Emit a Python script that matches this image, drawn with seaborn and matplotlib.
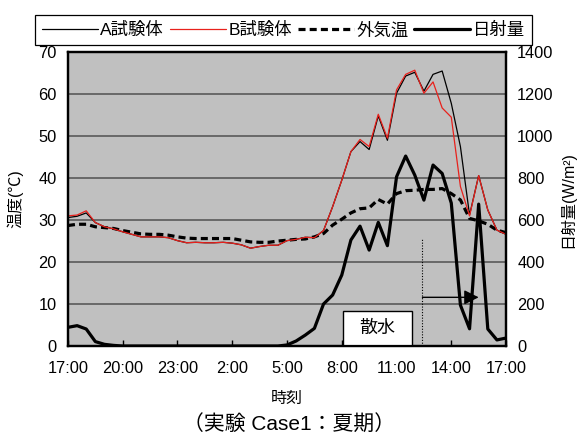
import numpy as np
import pandas as pd
import matplotlib
matplotlib.use("Agg")
import matplotlib.pyplot as plt
from matplotlib.patches import Rectangle
import seaborn as sns

# Half-hourly readings from 17:00 to 17:00 the next day
hours = np.arange(49) * 0.5

temp_a = [30.6, 30.9, 31.7, 29.4, 28.4, 27.9, 27.2, 26.6, 26.0, 26.0,
          26.0, 25.8, 25.1, 24.6, 24.7, 24.6, 24.6, 24.7, 24.5, 24.1,
          23.3, 23.7, 24.0, 24.0, 25.1, 25.4, 25.9, 25.8, 27.5, 33.2,
          39.5, 46.3, 48.7, 46.8, 54.8, 49.0, 60.2, 64.3, 65.2, 60.7,
          64.7, 65.5, 57.8, 47.5, 31.2, 40.6, 32.4, 27.6, 26.6]
temp_b = [31.0, 31.2, 32.2, 29.4, 28.4, 27.9, 27.2, 26.6, 26.0, 26.0,
          26.0, 25.8, 25.1, 24.6, 24.7, 24.6, 24.6, 24.7, 24.5, 24.1,
          23.3, 23.7, 24.0, 24.0, 25.1, 25.4, 25.9, 25.8, 27.5, 33.2,
          39.5, 46.3, 49.2, 47.5, 55.2, 49.5, 61.0, 64.7, 65.7, 60.2,
          62.9, 56.7, 54.5, 38.0, 31.0, 40.6, 32.4, 27.6, 26.6]
temp_out = [28.7, 29.0, 29.0, 28.4, 28.2, 28.0, 27.5, 27.1, 26.7, 26.6,
            26.6, 26.4, 26.0, 25.7, 25.6, 25.6, 25.6, 25.6, 25.6, 25.2,
            24.8, 24.7, 24.7, 25.0, 25.2, 25.4, 25.5, 26.0, 26.8, 28.8,
            30.2, 31.7, 32.7, 32.9, 34.9, 33.8, 36.3, 37.0, 37.1, 37.3,
            37.3, 37.5, 36.3, 34.8, 30.4, 29.8, 29.0, 27.6, 27.0]
solar = [89, 97, 81, 21, 8, 3, 0, 0, 0, 0,
         0, 0, 0, 0, 0, 0, 0, 0, 0, 0,
         0, 0, 0, 0, 5, 24, 52, 84, 200, 243,
         338, 505, 571, 457, 589, 478, 806, 905, 814, 695,
         862, 822, 681, 195, 82, 676, 81, 29, 38]

tick_hours = [0, 3, 6, 9, 12, 15, 18, 21, 24]
tick_labels = ["17:00", "20:00", "23:00", "2:00", "5:00",
               "8:00", "11:00", "14:00", "17:00"]

series_names = ["A試験体", "B試験体", "外気温", "日射量"]

# Sprinkling period: starts at 12:25, marked with an arrow
sprinkle_start = 19.42
sprinkle_arrow_end = 22.5

df = pd.DataFrame({"hour": hours, "A": temp_a, "B": temp_b,
                   "out": temp_out, "solar": solar})

sns.set_theme(style="white", rc={"text.color": "black",
                                 "axes.labelcolor": "black",
                                 "xtick.color": "black",
                                 "ytick.color": "black"})
plt.rcParams["font.family"] = ["Liberation Sans", "Noto Sans CJK JP"]

TICK_FS = 11.8
LABEL_FS = 11.5

fig = plt.figure(figsize=(5.81, 4.38), dpi=100)
ax = fig.add_axes([0.117, 0.210, 0.754, 0.671])
ax.set_facecolor("#c0c0c0")

sns.lineplot(data=df, x="hour", y="out", ax=ax, color="black",
             lw=2.3, legend=False)
ax.lines[-1].set_dashes([2.2, 1.3])
sns.lineplot(data=df, x="hour", y="A", ax=ax, color="black",
             lw=0.9, legend=False)
sns.lineplot(data=df, x="hour", y="B", ax=ax, color="#e8211c",
             lw=0.9, legend=False)

ax.set_xlim(0, 24)
ax.set_ylim(0, 70)
ax.set_xticks(tick_hours)
ax.set_xticklabels(tick_labels)
ax.set_yticks(range(0, 71, 10))
ax.grid(axis="y", color="#595959", lw=1.2)
ax.grid(axis="x", visible=False)
ax.set_axisbelow(True)
ax.tick_params(axis="x", direction="in", length=4, width=1, pad=11,
               labelsize=TICK_FS, bottom=True)
ax.tick_params(axis="y", length=0, pad=8, labelsize=TICK_FS)
for sp in ax.spines.values():
    sp.set_linewidth(1.6)
    sp.set_color("black")

ax.set_xlabel("時刻", fontsize=LABEL_FS)
ax.xaxis.set_label_coords(0.5, -0.178)
ax.xaxis.label.set_va("center")
ax.set_ylabel("温度(℃)", fontsize=LABEL_FS)
ax.yaxis.set_label_coords(-0.121, 0.5)
ax.yaxis.label.set_va("center")

# Sprinkling annotation
ax.add_patch(Rectangle((15.05, 0), 3.78, 8.3, facecolor="white",
                       edgecolor="black", lw=1.0, zorder=3))
ax.text(16.94, 4.2, "散水", ha="center", va="center", fontsize=13,
        zorder=4)
ax.plot([sprinkle_start, sprinkle_start], [0, 25.7], color="black",
        lw=0.8, ls=(0, (1, 1.5)), zorder=2)
ax.annotate("", xy=(sprinkle_arrow_end, 11.6),
            xytext=(sprinkle_start, 11.6),
            arrowprops=dict(arrowstyle="-|>", color="black", lw=1.0,
                            mutation_scale=22, shrinkA=0, shrinkB=0),
            zorder=2)

ax2 = ax.twinx()
sns.lineplot(data=df, x="hour", y="solar", ax=ax2, color="black",
             lw=2.3, legend=False)
ax2.set_ylim(0, 1400)
ax2.set_yticks(range(0, 1401, 200))
ax2.grid(False)
ax2.tick_params(axis="y", length=0, pad=8, labelsize=TICK_FS)
for sp in ax2.spines.values():
    sp.set_linewidth(1.6)
    sp.set_color("black")
ax2.set_ylabel("日射量(W/m²)", fontsize=LABEL_FS)
ax2.yaxis.set_label_coords(1.139, 0.5)
ax2.yaxis.label.set_va("center")

handles = [ax.lines[1], ax.lines[2], ax.lines[0], ax2.lines[0]]
leg = fig.legend(handles, series_names, loc="upper center",
                 bbox_to_anchor=(0.488, 0.985), ncol=4, frameon=True,
                 fancybox=False, edgecolor="black", framealpha=1,
                 handlelength=3.2, columnspacing=0.35, handletextpad=0.15,
                 borderpad=0.4, fontsize=12.5)
leg.get_frame().set_linewidth(0.9)

fig.text(0.497, 0.030, "（実験 Case1：夏期）", ha="center", va="center",
         fontsize=15)

fig.savefig("out.png", dpi=100)
